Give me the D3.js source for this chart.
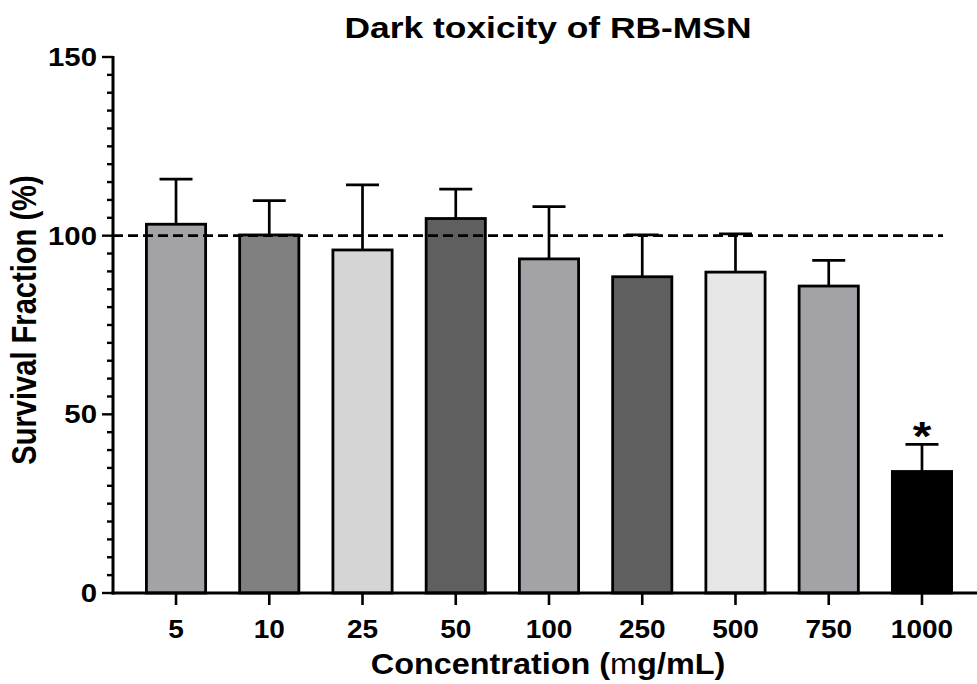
<!DOCTYPE html>
<html>
<head>
<meta charset="utf-8">
<script src="https://cdn.jsdelivr.net/npm/d3@7"></script>
<style>
  body { margin: 0; background: #fff; }
  text { font-family: "Liberation Sans", Arial, sans-serif; font-weight: bold; fill: #000; }
</style>
</head>
<body>
<div id="chart"></div>
<script>
var width = 977;
var height = 684;

// data
var concentrations = ["5", "10", "25", "50", "100", "250", "500", "750", "1000"];
var survival = [103.2, 100.2, 96.0, 104.8, 93.5, 88.5, 89.8, 85.9, 34.0];
var errorTop = [115.8, 109.8, 114.2, 113.0, 108.1, 100.2, 100.5, 93.1, 41.6];
var barColors = ["#a3a2a7", "#808080", "#d5d5d5", "#5f5f5f", "#a3a2a7", "#606060", "#e6e6e6", "#a3a2a7", "#000000"];
var significant = ["1000"];
var yTicks = [0, 50, 100, 150];
var reference = 100;

var svg = d3.select("#chart")
  .append("svg")
  .attr("width", width)
  .attr("height", height);

// the original text is a bit wider than it is tall, so stretch it sideways
function place(x, y, sx, sy) {
  return "translate(" + x + "," + y + ") scale(" + sx + "," + (sy || 1) + ")";
}

// scales
var xScale = d3.scaleBand().domain(concentrations).range([129.4, 968.6]).padding(0);
var yScale = d3.scaleLinear().domain([0, 150]).range([593, 57]);
var barW = xScale.bandwidth() * 0.635;
var cx = function (d) { return xScale(d) + xScale.bandwidth() / 2; };

// bars
svg.selectAll("rect.bar")
  .data(concentrations)
  .enter()
  .append("rect")
  .attr("class", "bar")
  .attr("x", function (d) { return cx(d) - barW / 2; })
  .attr("y", function (d, i) { return yScale(survival[i]); })
  .attr("width", barW)
  .attr("height", function (d, i) { return yScale(0) - yScale(survival[i]); })
  .attr("fill", function (d, i) { return barColors[i]; })
  .attr("stroke", "#000")
  .attr("stroke-width", 2.8);

// error bars (upper only)
var err = svg.selectAll("g.err")
  .data(concentrations)
  .enter()
  .append("g")
  .attr("class", "err")
  .attr("stroke", "#000")
  .attr("stroke-width", 2.7);

err.append("line")
  .attr("x1", cx)
  .attr("x2", cx)
  .attr("y1", function (d, i) { return yScale(survival[i]); })
  .attr("y2", function (d, i) { return yScale(errorTop[i]); });

err.append("line")
  .attr("x1", function (d) { return cx(d) - 16.5; })
  .attr("x2", function (d) { return cx(d) + 16.5; })
  .attr("y1", function (d, i) { return yScale(errorTop[i]); })
  .attr("y2", function (d, i) { return yScale(errorTop[i]); });

// significance star
svg.selectAll("text.star")
  .data(significant)
  .enter()
  .append("text")
  .attr("class", "star")
  .attr("transform", function (d) {
    return place(cx(d), yScale(errorTop[concentrations.indexOf(d)]) + 6, 1.2);
  })
  .attr("text-anchor", "middle")
  .style("font-size", "40px")
  .text("*");

// dashed 100% reference
svg.append("line")
  .attr("x1", 113)
  .attr("x2", 943)
  .attr("y1", yScale(reference))
  .attr("y2", yScale(reference))
  .attr("stroke", "#000")
  .attr("stroke-width", 2.6)
  .attr("stroke-dasharray", "10,5");

// y axis: minor ticks every 5, major every 50
var minor = d3.range(0, 151, 5);
svg.selectAll("line.ytick")
  .data(minor)
  .enter()
  .append("line")
  .attr("x1", function (d) { return d % 50 === 0 ? 102 : 107; })
  .attr("x2", 113)
  .attr("y1", function (d) { return yScale(d); })
  .attr("y2", function (d) { return yScale(d); })
  .attr("stroke", "#000")
  .attr("stroke-width", 2.4);

svg.append("line")
  .attr("x1", 113).attr("x2", 113)
  .attr("y1", yScale(150) - 1).attr("y2", yScale(0) + 1.5)
  .attr("stroke", "#000").attr("stroke-width", 3);

svg.selectAll("text.ylab")
  .data(yTicks)
  .enter()
  .append("text")
  .attr("class", "ylab")
  .attr("transform", function (d) { return place(97, yScale(d) + 9, 1.13); })
  .attr("text-anchor", "end")
  .style("font-size", "26px")
  .text(function (d) { return d; });

// x axis
svg.append("line")
  .attr("x1", 111.5).attr("x2", 977)
  .attr("y1", yScale(0)).attr("y2", yScale(0))
  .attr("stroke", "#000").attr("stroke-width", 3);

svg.selectAll("line.xtick")
  .data(concentrations)
  .enter()
  .append("line")
  .attr("x1", cx)
  .attr("x2", cx)
  .attr("y1", yScale(0))
  .attr("y2", yScale(0) + 12)
  .attr("stroke", "#000")
  .attr("stroke-width", 2.6);

svg.selectAll("text.xlab")
  .data(concentrations)
  .enter()
  .append("text")
  .attr("class", "xlab")
  .attr("transform", function (d) { return place(cx(d), 638, 1.12); })
  .attr("text-anchor", "middle")
  .style("font-size", "25px")
  .text(function (d) { return d; });

// titles
svg.append("text")
  .attr("transform", place(548, 38, 1.18))
  .attr("text-anchor", "middle")
  .style("font-size", "30px")
  .text("Dark toxicity of RB-MSN");

var xt = svg.append("text")
  .attr("transform", place(548, 674, 1.08))
  .attr("text-anchor", "middle")
  .style("font-size", "30px");
xt.append("tspan").text("Concentration (");
xt.append("tspan").style("font-weight", "normal").text("m");
xt.append("tspan").text("g/mL)");

svg.append("text")
  .attr("transform", "translate(36,320) rotate(-90) scale(0.97,1.2)")
  .attr("text-anchor", "middle")
  .style("font-size", "30px")
  .text("Survival Fraction (%)");
</script>
</body>
</html>
